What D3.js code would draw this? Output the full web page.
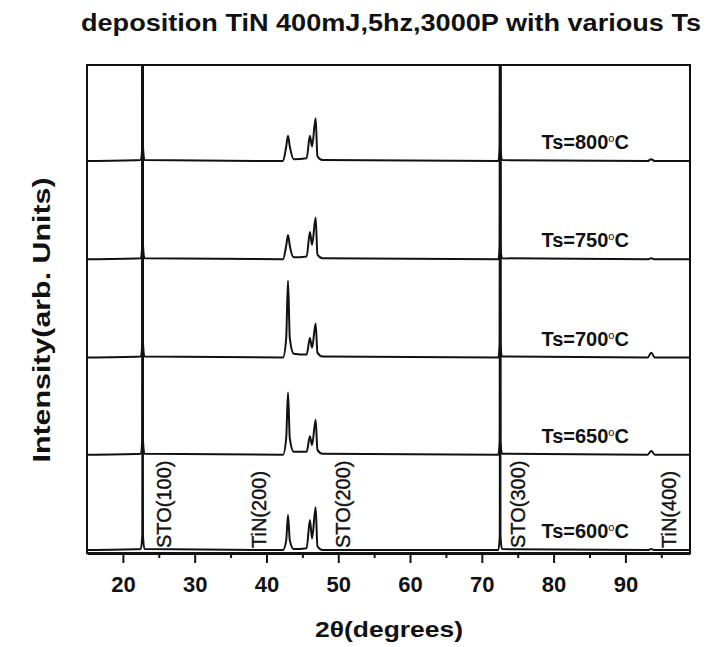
<!DOCTYPE html>
<meta charset="utf-8">
<head>
    <title>TiN deposition XRD</title>
</head>
<script src="https://d3js.org/d3.v7.min.js"></script>
<style>
    body { margin: 0; background: #fff; }
    text { font-family: Arial, "Liberation Sans", sans-serif; fill: #111; }
    .frame { fill: none; stroke: #111; stroke-width: 2px; }
    .pattern { fill: none; stroke: #111; stroke-width: 2px; stroke-linejoin: round; }
    .axis .domain { stroke: #111; stroke-width: 3px; }
    .axis line { stroke: #111; stroke-width: 2px; }
</style>
<div id="viz"></div>
<script>

// 2theta grid shared by all patterns (degrees)
var twoTheta = [15, 22.5, 22.7, 22.75, 22.8, 23.0,
                42.3, 42.75, 43.0, 43.25, 43.8,
                45.6, 46.05, 46.35, 46.85, 47.1, 47.8,
                72.3, 72.5, 72.55, 72.6, 72.8,
                93.1, 93.6, 94.1, 99];

var temps = ['600', '650', '700', '750', '800'];

// intensity above each pattern's own baseline (arb. units, 1 = stack step)
var i600 = [0, 0.01, 0.15, 6, 0.15, 0.01,  0, 0.1, 0.36, 0.1, 0.01,  0.02, 0.31, 0.12, 0.44, 0.04, 0,  0, 0.15, 6, 0.15, 0.01,  0, 0.01, 0, 0];
var i650 = [0, 0.01, 0.15, 6, 0.15, 0.01,  0, 0.17, 0.64, 0.17, 0.03,  0.03, 0.19, 0.1, 0.36, 0.05, 0.01,  0, 0.15, 6, 0.15, 0.01,  0, 0.04, 0, 0];
var i700 = [0, 0.01, 0.15, 6, 0.15, 0.01,  0, 0.2, 0.79, 0.2, 0.04,  0.03, 0.2, 0.1, 0.35, 0.05, 0.01,  0, 0.15, 6, 0.15, 0.01,  0, 0.05, 0, 0];
var i750 = [0, 0.01, 0.15, 6, 0.15, 0.01,  0, 0.14, 0.25, 0.14, 0.02,  0.03, 0.28, 0.15, 0.43, 0.05, 0.01,  0, 0.15, 6, 0.15, 0.01,  0, 0.01, 0, 0];
var i800 = [0, 0.01, 0.15, 6, 0.15, 0.01,  0, 0.15, 0.26, 0.15, 0.02,  0.03, 0.26, 0.15, 0.44, 0.05, 0.01,  0, 0.15, 6, 0.15, 0.01,  0, 0.02, 0, 0];

// vertical offset of each pattern in the stack
var offsets = [0, 0.98, 1.98, 2.99, 4.0];

var xTicks = [20, 30, 40, 50, 60, 70, 80, 90];
var xMinorTicks = [25, 35, 45, 55, 65, 75, 85, 95];

var peakNames = ['STO(100)', 'TiN(200)', 'STO(200)', 'STO(300)', 'TiN(400)'];
var peakLabelAt = [26.7, 40.0, 51.6, 75.95, 97.1];

var intensities = [i600, i650, i700, i750, i800];

var W = 707, H = 647;
var box = {left: 87, top: 65, right: 690, bottom: 553};

var svg = d3.select('#viz')
    .append('svg')
        .attr('width', W)
        .attr('height', H);

var x = d3.scaleLinear()
    .domain([15, 99])
    .range([box.left, box.right]);

var y = d3.scaleLinear()
    .domain([-0.03, 4.988])
    .range([box.bottom, box.top]);

svg.append('defs').append('clipPath')
    .attr('id', 'plotclip')
    .append('rect')
        .attr('x', box.left)
        .attr('y', box.top)
        .attr('width', box.right - box.left)
        .attr('height', box.bottom - box.top);

var line = d3.line()
    .x(function(d) { return x(d.t); })
    .y(function(d) { return y(d.v); })
    .curve(d3.curveMonotoneX);

var plot = svg.append('g').attr('clip-path', 'url(#plotclip)');

intensities.forEach(function(arr, k) {
    var pts = twoTheta.map(function(t, i) { return {t: t, v: arr[i] + offsets[k]}; });
    plot.append('path')
        .datum(pts)
        .attr('class', 'pattern')
        .attr('d', line);
});

// frame
svg.append('rect')
    .attr('class', 'frame')
    .attr('x', box.left)
    .attr('y', box.top)
    .attr('width', box.right - box.left)
    .attr('height', box.bottom - box.top);

// x axis
var xa = svg.append('g')
    .attr('class', 'axis')
    .attr('transform', 'translate(0,' + box.bottom + ')')
    .call(d3.axisBottom(x).tickValues(xTicks).tickSize(10).tickPadding(13).tickSizeOuter(0));
xa.selectAll('text')
    .style('font-size', '22px')
    .style('font-weight', 'bold')
    .style('font-family', 'Arial, "Liberation Sans", sans-serif')
    .attr('fill', '#111');

svg.append('g')
    .attr('class', 'axis')
    .attr('transform', 'translate(0,' + box.bottom + ')')
    .call(d3.axisBottom(x).tickValues(xMinorTicks).tickSize(5).tickFormat('').tickSizeOuter(0))
    .select('.domain').remove();

// temperature labels
temps.forEach(function(t, k) {
    var lab = svg.append('text')
        .attr('x', x(84.4))
        .attr('y', y(offsets[k]) - 12)
        .style('text-anchor', 'middle')
        .style('font-size', '20px')
        .style('font-weight', 'bold')
        .text('Ts=' + t);
    lab.append('tspan')
        .attr('dy', -7)
        .style('font-size', '11px')
        .style('font-weight', 'normal')
        .text('o');
    lab.append('tspan')
        .attr('dy', 7)
        .text('C');
});

// peak labels
peakNames.forEach(function(name, k) {
    svg.append('text')
        .attr('transform', 'translate(' + x(peakLabelAt[k]) + ',548)rotate(-90)')
        .style('font-size', '20px')
        .style('stroke', '#111')
        .style('stroke-width', '0.4px')
        .text(name);
});

// titles
svg.append('text')
    .attr('x', 81)
    .attr('y', 31)
    .attr('textLength', 620)
    .attr('lengthAdjust', 'spacingAndGlyphs')
    .style('font-size', '23px')
    .style('font-weight', 'bold')
    .text('deposition TiN 400mJ,5hz,3000P with various Ts');

svg.append('text')
    .attr('x', 389)
    .attr('y', 637)
    .attr('textLength', 148)
    .attr('lengthAdjust', 'spacingAndGlyphs')
    .style('text-anchor', 'middle')
    .style('font-size', '22px')
    .style('font-weight', 'bold')
    .text('2\u03B8(degrees)');

svg.append('text')
    .attr('transform', 'translate(50,320)rotate(-90)')
    .attr('textLength', 285)
    .attr('lengthAdjust', 'spacingAndGlyphs')
    .style('text-anchor', 'middle')
    .style('font-size', '24px')
    .style('font-weight', 'bold')
    .text('Intensity(arb. Units)');

</script>
